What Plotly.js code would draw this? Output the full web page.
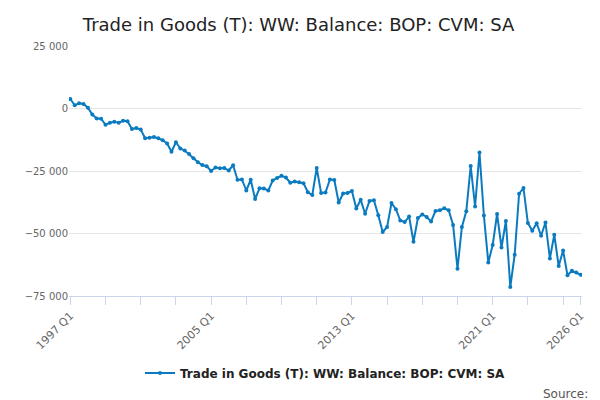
<!DOCTYPE html>
<html>
<head>
<meta charset="utf-8">
<script src="https://cdn.plot.ly/plotly-3.0.1.min.js"></script>
<style>body{margin:0}#chart{width:600px;height:400px}</style>
</head>
<body>
<div id="chart"></div>
<script>
// quarterly balance, 1997 Q1 .. 2026 Q1 (GBP million)
const balance = [
  3800, 1300, 2100, 1800,
  300, -2400, -4000, -4100,
  -6500, -5700, -5300, -5700,
  -4900, -5100, -8200, -7800,
  -8400, -11900, -11700, -11400,
  -11900, -12700, -14000, -17300,
  -13500, -16000, -16800, -18200,
  -19900, -21500, -22600, -23100,
  -25000, -23600, -23900, -23800,
  -24800, -22700, -28500, -28400,
  -32800, -28500, -36200, -31900,
  -32000, -32800, -28800, -27800,
  -26900, -27600, -29700, -29200,
  -29500, -29900, -33500, -34600,
  -23800, -33800, -33600, -28400,
  -28600, -37600, -34000, -33800,
  -33000, -40000, -36500, -42100,
  -37000, -36700, -42700, -49400,
  -47400, -37800, -40300, -44800,
  -45400, -43200, -53300, -43800,
  -42400, -43400, -45200, -41000,
  -40700, -39900, -40700, -46600,
  -64100, -47400, -41100, -23000,
  -39200, -17600, -42800, -61600,
  -54600, -42200, -55600, -45000,
  -71400, -58500, -34100, -31800,
  -45800, -48900, -45900, -50900,
  -45600, -60000, -50500, -63000,
  -56800, -66700, -64900, -65600,
  -66500
];
const quarters = [];
for (let i = 0; i < balance.length; i++) {
  quarters.push((1997 + Math.floor(i / 4)) + " Q" + (i % 4 + 1));
}
const tickLabels = ["1997 Q1", "2005 Q1", "2013 Q1", "2021 Q1", "2026 Q1"];
const seriesName = "Trade in Goods (T): WW: Balance: BOP: CVM: SA";

// tick marks every two years, labels only on some
const tickVals = [], tickText = [];
for (let i = 0; i < quarters.length; i += 8) tickVals.push(quarters[i]);
tickVals.push(quarters[quarters.length - 1]);
tickVals.forEach(q => tickText.push(tickLabels.includes(q) ? q : ""));

const traces = [{
  x: quarters,
  y: balance,
  type: "scatter",
  mode: "lines+markers",
  name: seriesName,
  line: { color: "#0b7bc1", width: 2 },
  marker: { color: "#0b7bc1", size: 4 }
}];

const layout = {
  width: 600,
  height: 400,
  font: { family: "DejaVu Sans, sans-serif", color: "#444", size: 11 },
  separators: ". ",
  title: {
    text: seriesName,
    font: { size: 18, color: "#222" },
    x: 0.138, xanchor: "left", y: 0.955
  },
  margin: { l: 69, r: 18, t: 46, b: 102 },
  showlegend: true,
  legend: {
    orientation: "h", x: 0.5, xanchor: "center", y: -0.25, yanchor: "top",
    font: { size: 12, color: "#222", weight: "bold" }
  },
  xaxis: {
    type: "category",
    tickvals: tickVals,
    ticktext: tickText,
    tickangle: -45,
    ticks: "outside",
    ticklen: 8,
    tickcolor: "#ccd6eb",
    showgrid: false,
    showline: true,
    linecolor: "#ccd6eb",
    tickfont: { size: 11, color: "#666" },
    range: [-0.3, balance.length - 0.7]
  },
  yaxis: {
    range: [-75000, 25000],
    dtick: 25000,
    tickformat: ",d",
    gridcolor: "#e6e6e6",
    zeroline: false,
    tickfont: { size: 10, color: "#666" }
  },
  annotations: [{
    text: "Source:", xref: "paper", yref: "paper", x: 1.015, y: -0.355,
    xanchor: "right", yanchor: "top", showarrow: false,
    font: { size: 12, color: "#555" }
  }]
};

Plotly.newPlot("chart", traces, layout, { displayModeBar: false, staticPlot: true });
</script>
</body>
</html>
